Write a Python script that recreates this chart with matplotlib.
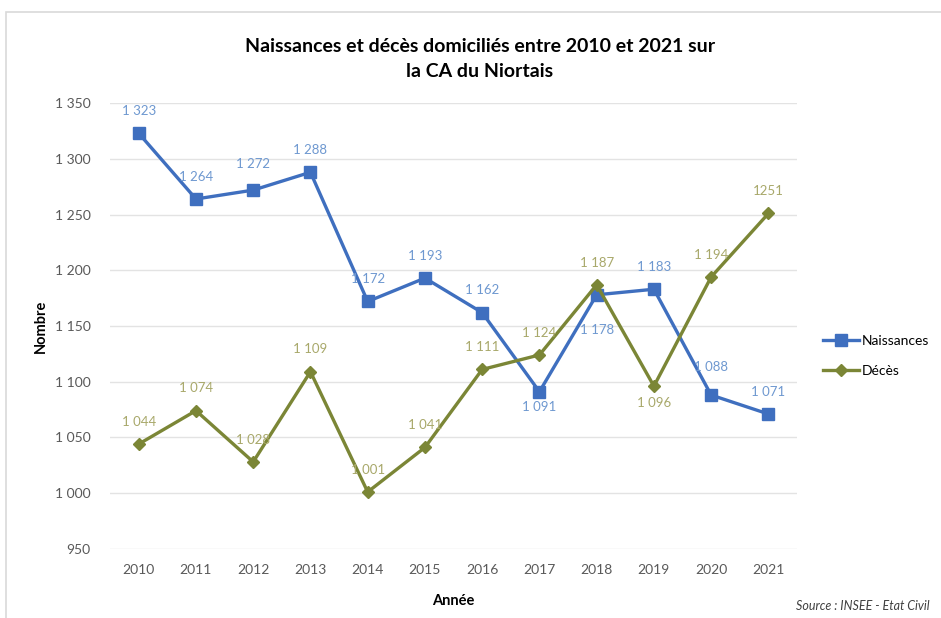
import matplotlib
matplotlib.use("Agg")
import matplotlib.pyplot as plt
from matplotlib.patches import Rectangle
from matplotlib.ticker import FuncFormatter

years = [2010, 2011, 2012, 2013, 2014, 2015, 2016, 2017, 2018, 2019, 2020, 2021]
naissances = [1323, 1264, 1272, 1288, 1172, 1193, 1162, 1091, 1178, 1183, 1088, 1071]
deces = [1044, 1074, 1028, 1109, 1001, 1041, 1111, 1124, 1187, 1096, 1194, 1251]
naiss_labels = ["1 323", "1 264", "1 272", "1 288", "1 172", "1 193", "1 162", "1 091", "1 178", "1 183", "1 088", "1 071"]
deces_labels = ["1 044", "1 074", "1 028", "1 109", "1 001", "1 041", "1 111", "1 124", "1 187", "1 096", "1 194", "1251"]
# label offsets in points (positive = above)
naiss_dy = [16, 16, 19, 16, 16, 16, 16, -11, -25, 16, 20, 16]
deces_dy = [16, 16, 16, 16, 16, 16, 16, 16, 16, -12, 16, 16]

plt.rcParams['font.family'] = ['Lato', 'DejaVu Sans']

blue = '#3F6FBF'
olive = '#7B8636'
blue_lbl = '#6E98D0'
olive_lbl = '#A8A86A'
tick_col = '#595959'

fig = plt.figure(figsize=(9.41, 6.18), dpi=100)
fig.patch.set_facecolor('white')
fig.add_artist(Rectangle((0.006, -0.01), 1.1, 0.99, transform=fig.transFigure,
                         fill=False, edgecolor='#D9D9D9', linewidth=1.2))

ax = fig.add_axes([0.117, 0.112, 0.730, 0.721])
x = list(range(len(years)))
ax.plot(x, naissances, color=blue, lw=2.4, marker='s', ms=8, label='Naissances')
ax.plot(x, deces, color=olive, lw=2.4, marker='D', ms=6.5, label='Décès')

for i in x:
    ax.annotate(naiss_labels[i], (i, naissances[i]), xytext=(0, naiss_dy[i]), textcoords='offset points',
                ha='center', va='center', fontsize=9.5, color=blue_lbl)
    ax.annotate(deces_labels[i], (i, deces[i]), xytext=(0, deces_dy[i]), textcoords='offset points',
                ha='center', va='center', fontsize=9.5, color=olive_lbl)

ax.set_xlim(-0.5, len(years) - 0.5)
ax.set_ylim(950, 1350)
ax.set_yticks(range(950, 1351, 50))
ax.yaxis.set_major_formatter(FuncFormatter(lambda v, p: f"{int(v):,}".replace(",", " ")))
ax.set_xticks(x)
ax.set_xticklabels([str(y) for y in years])
ax.grid(axis='y', color='#E3E3E3', lw=1)
ax.set_axisbelow(True)
for s in ax.spines.values():
    s.set_visible(False)
ax.tick_params(axis='both', length=0, labelsize=10, colors=tick_col, pad=11)
ax.tick_params(axis='y', pad=14)

ax.set_xlabel('Année', fontsize=10.5, fontweight='bold', labelpad=13)
ax.set_ylabel('Nombre', fontsize=10.5, fontweight='bold', labelpad=5)

fig.text(0.51, 0.905, 'Naissances et décès domiciliés entre 2010 et 2021 sur\nla CA du Niortais',
         ha='center', va='center', fontsize=14, fontweight='bold', linespacing=1.55)

ax.legend(loc='center left', bbox_to_anchor=(1.038, 0.433), frameon=False, fontsize=10,
          handlelength=2.6, handletextpad=0.15, labelspacing=1.3, borderpad=0, borderaxespad=0)

fig.text(0.988, 0.02, 'Source : INSEE - Etat Civil', ha='right', va='center',
         fontsize=9, style='italic', color='#404040')

fig.savefig('out.png', dpi=100)
